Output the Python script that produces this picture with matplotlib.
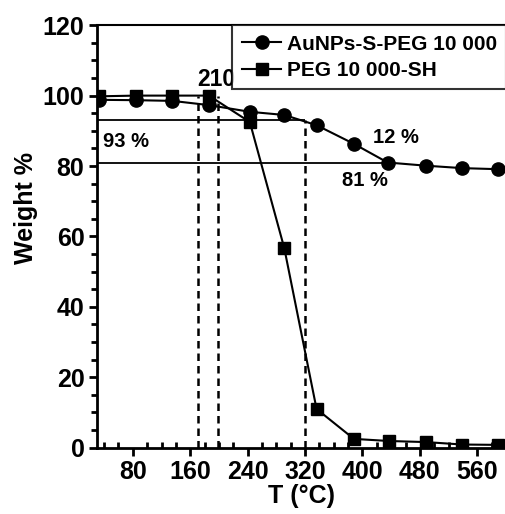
import matplotlib

matplotlib.use("Agg")
import matplotlib.pyplot as plt
from matplotlib.ticker import MultipleLocator

plt.rcParams["font.family"] = ["Liberation Sans", "DejaVu Sans"]
plt.rcParams["font.weight"] = "bold"

temp_peg = [33, 85, 135, 186, 243, 291, 336, 388, 437, 488, 539, 589]
weight_peg = [99.8, 100.0, 100.0, 100.0, 92.5, 56.7, 11.0, 2.5, 1.9, 1.6, 0.9, 0.8]

temp_au = [33, 85, 135, 186, 243, 291, 336, 388, 435, 488, 539, 589]
weight_au = [98.8, 98.7, 98.5, 97.3, 95.4, 94.5, 91.6, 86.3, 81.0, 80.1, 79.4, 79.1]

onset_temps = [171, 199]
end_temp = 320
plateau_levels = [93, 81]
x_ticks = [80, 160, 240, 320, 400, 480, 560]

fig = plt.figure(figsize=(5.05, 5.14), dpi=100)
ax = fig.add_axes([0.192, 0.129, 0.81, 0.822])

ax.plot(temp_au, weight_au, color="black", lw=1.5, marker="o", ms=9.5,
        label="AuNPs-S-PEG 10 000")
ax.plot(temp_peg, weight_peg, color="black", lw=1.5, marker="s", ms=9,
        label="PEG 10 000-SH")

# guide lines
ax.hlines(plateau_levels[0], 30, end_temp, color="black", lw=1.3)
ax.hlines(plateau_levels[1], 30, 435, color="black", lw=1.3)
for t in onset_temps:
    ax.vlines(t, 0, 100, color="black", lw=1.8, linestyles=(0, (3, 2)))
ax.vlines(end_temp, 0, plateau_levels[0], color="black", lw=1.8,
          linestyles=(0, (3, 2)))

ax.text(197, 104.5, "210", fontsize=16.5, fontweight="bold", ha="center", va="center")
ax.text(38, 87.0, "93 %", fontsize=14.5, fontweight="bold", ha="left", va="center")
ax.text(414, 88.2, "12 %", fontsize=14.5, fontweight="bold", ha="left", va="center")
ax.text(371, 76, "81 %", fontsize=14.5, fontweight="bold", ha="left", va="center")

ax.set_xlim(30, 600)
ax.set_ylim(0, 120)
ax.set_xticks(x_ticks)
ax.xaxis.set_minor_locator(MultipleLocator(20))
ax.yaxis.set_major_locator(MultipleLocator(20))
ax.yaxis.set_minor_locator(MultipleLocator(5))
ax.tick_params(axis="both", which="major", labelsize=18, width=2, length=6, pad=3)
ax.tick_params(axis="x", which="minor", direction="in", width=2, length=4)
ax.tick_params(axis="y", which="minor", direction="out", width=2, length=4)
for lab in ax.get_xticklabels() + ax.get_yticklabels():
    lab.set_fontweight("bold")
for side in ("left", "bottom"):
    ax.spines[side].set_linewidth(2)
ax.spines["top"].set_linewidth(1.5)
ax.spines["right"].set_visible(False)

ax.set_xlabel("T (°C)", fontsize=18, fontweight="bold", labelpad=0)
ax.set_ylabel("Weight %", fontsize=18, fontweight="bold")
ax.yaxis.set_label_coords(-0.143, 0.567)

leg = ax.legend(loc="upper right", frameon=True, fancybox=False,
                handlelength=1.9, handletextpad=0.25, borderaxespad=0,
                borderpad=0.45, labelspacing=0.35,
                prop={"weight": "bold", "size": 15})
leg.get_frame().set_edgecolor("black")
leg.get_frame().set_linewidth(1.5)

fig.savefig("out.png", dpi=100)
